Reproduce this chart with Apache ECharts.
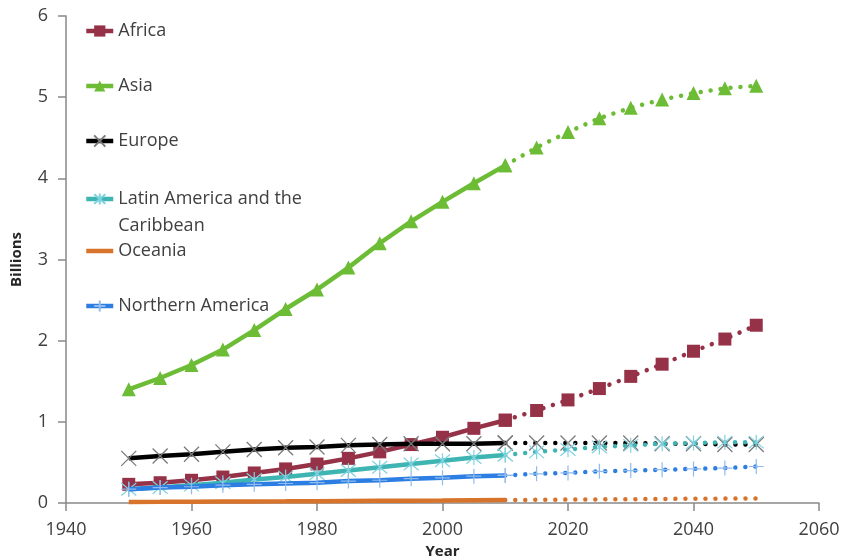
<!DOCTYPE html>
<html>
<head>
<meta charset="utf-8">
<script src="https://cdn.jsdelivr.net/npm/echarts@6/dist/echarts.min.js"></script>
<style>
html,body{margin:0;padding:0;background:#fff;}
#chart{width:843px;height:560px;}
</style>
</head>
<body>
<div id="chart"></div>
<script>
const years = [1950,1955,1960,1965,1970,1975,1980,1985,1990,1995,2000,2005,2010,2015,2020,2025,2030,2035,2040,2045,2050];
const africa = [0.23,0.25,0.28,0.32,0.37,0.42,0.48,0.55,0.63,0.72,0.81,0.92,1.02,1.14,1.27,1.41,1.56,1.71,1.87,2.02,2.19];
const asia = [1.40,1.54,1.70,1.89,2.13,2.39,2.63,2.90,3.20,3.47,3.71,3.94,4.16,4.38,4.57,4.74,4.87,4.97,5.05,5.11,5.14];
const europe = [0.55,0.58,0.60,0.63,0.66,0.68,0.69,0.71,0.72,0.73,0.73,0.73,0.74,0.74,0.74,0.74,0.74,0.73,0.73,0.72,0.72];
const latam = [0.17,0.19,0.22,0.25,0.29,0.32,0.36,0.40,0.44,0.48,0.52,0.56,0.59,0.63,0.66,0.69,0.71,0.73,0.74,0.75,0.75];
const oceania = [0.013,0.014,0.016,0.018,0.020,0.021,0.023,0.025,0.027,0.029,0.031,0.034,0.037,0.039,0.042,0.045,0.047,0.050,0.052,0.054,0.056];
const namerica = [0.17,0.19,0.20,0.22,0.23,0.24,0.25,0.27,0.28,0.30,0.31,0.33,0.34,0.36,0.37,0.39,0.40,0.41,0.42,0.43,0.45];
const splitYear = 2010;
const xTicks = {min:1940, max:2060, interval:20};
const yTicks = {min:0, max:6, interval:1};

const names = ['Africa','Asia','Europe','Latin America and the Caribbean','Oceania','Northern America'];
const values = [africa, asia, europe, latam, oceania, namerica];

const X_PATH = 'path://M0,0L10,10M10,0L0,10';
const AST_PATH = 'path://M0,0L10,10M10,0L0,10M5,-1L5,11';
const PLUS_PATH = 'path://M5,0L5,10M0,5L10,5';

const styles = [
  {line:'#963247', symbol:'rect', size:13, sym:{color:'#963247'}},
  {line:'#6cbd35', symbol:'triangle', size:14, sym:{color:'#6cbd35'}},
  {line:'#000000', symbol:X_PATH, size:15, sym:{color:'transparent', borderColor:'#7a7a7a', borderWidth:1.3}},
  {line:'#3fb5b3', symbol:AST_PATH, size:15, sym:{color:'transparent', borderColor:'#7fd2e0', borderWidth:1.2}},
  {line:'#d8732b', symbol:'none', size:0, sym:{color:'#d8732b'}},
  {line:'#2c7ee2', symbol:PLUS_PATH, size:15, sym:{color:'transparent', borderColor:'#8fbcec', borderWidth:1.2}}
];

const series = [];
names.forEach((n, i) => {
  const st = styles[i];
  const solid = [], dotted = [];
  years.forEach((y, k) => {
    if (y <= splitYear) solid.push([y, values[i][k]]);
    if (y >= splitYear) dotted.push([y, values[i][k]]);
  });
  series.push({
    name: n, type: 'line', data: solid,
    symbol: st.symbol, symbolSize: st.size, showAllSymbol: true,
    lineStyle: {color: st.line, width: 4.5},
    itemStyle: Object.assign({}, st.sym),
    z: 2 + i
  });
  series.push({
    name: n, type: 'line', data: dotted,
    symbol: st.symbol, symbolSize: st.size, showAllSymbol: true,
    lineStyle: {color: st.line, width: 4.5, type: [0.01, 10], cap: 'round'},
    itemStyle: Object.assign({}, st.sym),
    z: 2 + i
  });
});

const rowCenters = [31, 86, 141, 197, 251, 306];
const legends = names.map((n, i) => {
  const isLat = i === 3;
  const lg = {
    data: [n],
    left: 84,
    top: isLat ? rowCenters[i] - 38.5 : rowCenters[i] - 10,
    padding: 0,
    itemWidth: 27,
    itemHeight: 14,
    itemGap: 0,
    lineStyle: {width: 4.5},
    formatter: isLat ? '\nLatin America and the\nCaribbean' : '{name}',
    textStyle: isLat
      ? {fontFamily:'Open Sans', fontSize:18, color:'#404040', lineHeight:27}
      : {fontFamily:'Open Sans', fontSize:18, color:'#404040', lineHeight:20}
  };
  if (styles[i].symbol === 'none') {
    lg.itemStyle = {color: 'transparent', borderWidth: 0};
  }
  return lg;
});

const chart = echarts.init(document.getElementById('chart'), null, {renderer:'canvas'});
chart.setOption({
  animation: false,
  backgroundColor: '#ffffff',
  grid: {left: 66, right: 24, top: 16, bottom: 57, outerBoundsMode: 'none', containLabel: false},
  legend: legends,
  xAxis: {
    type: 'value', min: xTicks.min, max: xTicks.max, interval: xTicks.interval,
    name: 'Year', nameLocation: 'middle', nameGap: 40,
    nameTextStyle: {fontFamily:'Open Sans', fontSize:15, fontWeight:'bold', color:'#262626'},
    axisLine: {show: true, lineStyle: {color:'#898989', width:1.5}},
    axisTick: {show: true, length: 8, lineStyle: {color:'#898989', width:1.5}},
    axisLabel: {fontFamily:'Open Sans', fontSize:18, color:'#404040', margin:18, formatter: v => String(v)},
    splitLine: {show: false}
  },
  yAxis: {
    type: 'value', min: yTicks.min, max: yTicks.max, interval: yTicks.interval,
    name: 'Billions', nameLocation: 'middle', nameGap: 42,
    nameTextStyle: {fontFamily:'Open Sans', fontSize:15, fontWeight:'bold', color:'#262626'},
    axisLine: {show: true, lineStyle: {color:'#898989', width:1.5}},
    axisTick: {show: true, length: 8, lineStyle: {color:'#898989', width:1.5}},
    axisLabel: {fontFamily:'Open Sans', fontSize:18, color:'#404040', margin:18},
    splitLine: {show: false}
  },
  series: series
});
</script>
</body>
</html>
